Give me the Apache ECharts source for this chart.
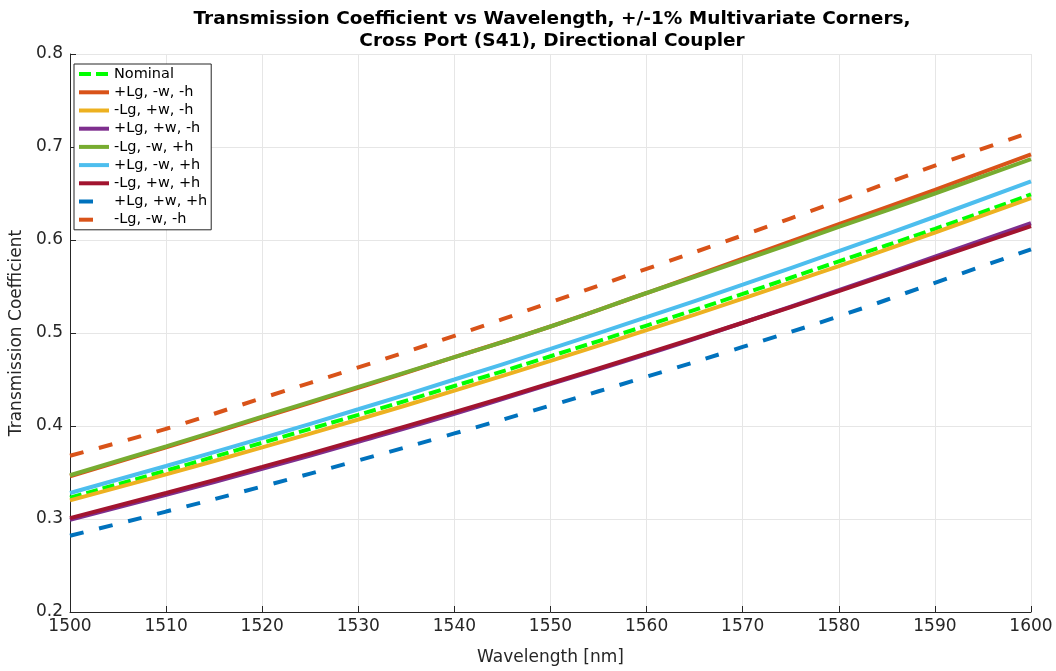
<!DOCTYPE html>
<html>
<head>
<meta charset="utf-8">
<script src="https://cdn.jsdelivr.net/npm/echarts@6/dist/echarts.min.js"></script>
<style>
  html, body { margin: 0; padding: 0; background: #fff; }
  #chart { width: 1056px; height: 671px; }
</style>
</head>
<body>
<div id="chart"></div>
<script>
// Wavelength samples [nm]
const wavelengths = [1500, 1510, 1520, 1530, 1540, 1550, 1560, 1570, 1580, 1590, 1600];

// Cross-port transmission (S41) for the nominal design and each +/-1% corner
const nominal      = [0.323, 0.352, 0.382, 0.412, 0.443, 0.475, 0.508, 0.542, 0.577, 0.612, 0.649];
const pLg_mw_mh    = [0.346, 0.377, 0.409, 0.441, 0.474, 0.507, 0.543, 0.580, 0.617, 0.654, 0.692];
const mLg_pw_mh    = [0.320, 0.348, 0.377, 0.407, 0.438, 0.470, 0.503, 0.537, 0.572, 0.608, 0.645];
const pLg_pw_mh    = [0.299, 0.326, 0.354, 0.383, 0.413, 0.445, 0.477, 0.511, 0.546, 0.582, 0.618];
const mLg_mw_ph    = [0.347, 0.378, 0.410, 0.442, 0.474, 0.507, 0.543, 0.578, 0.614, 0.650, 0.687];
const pLg_mw_ph    = [0.328, 0.357, 0.387, 0.418, 0.450, 0.483, 0.517, 0.552, 0.588, 0.625, 0.663];
const mLg_pw_ph    = [0.301, 0.328, 0.356, 0.385, 0.415, 0.446, 0.478, 0.511, 0.545, 0.580, 0.615];
const pLg_pw_ph    = [0.282, 0.308, 0.335, 0.363, 0.392, 0.422, 0.453, 0.485, 0.518, 0.554, 0.590];
const mLg_mw_mh    = [0.368, 0.397, 0.430, 0.463, 0.497, 0.533, 0.569, 0.605, 0.642, 0.680, 0.716];

const seriesNames = [
  'Nominal', '+Lg, -w, -h', '-Lg, +w, -h', '+Lg, +w, -h', '-Lg, -w, +h',
  '+Lg, -w, +h', '-Lg, +w, +h', '+Lg, +w, +h', '-Lg, -w, -h'
];
const seriesValues = [
  nominal, pLg_mw_mh, mLg_pw_mh, pLg_pw_mh, mLg_mw_ph,
  pLg_mw_ph, mLg_pw_ph, pLg_pw_ph, mLg_mw_mh
];
const seriesColors = [
  '#00ff00', '#D95319', '#EDB120', '#7E2F8E', '#77AC30',
  '#4DBEEE', '#A2142F', '#0072BD', '#D95319'
];
const seriesDash = [
  [12, 5], 'solid', 'solid', 'solid', 'solid',
  'solid', 'solid', [14, 16], [14, 16]
];

const xTicks = [1500, 1510, 1520, 1530, 1540, 1550, 1560, 1570, 1580, 1590, 1600];
const yTicks = [0.2, 0.3, 0.4, 0.5, 0.6, 0.7, 0.8];

const font = 'DejaVu Sans';
const axisColor = '#262626';

const series = seriesNames.map((name, i) => ({
  name: name,
  type: 'line',
  data: wavelengths.map((w, k) => [w, seriesValues[i][k]]),
  smooth: true,
  symbol: 'none',
  color: seriesColors[i],
  lineStyle: { color: seriesColors[i], width: 4, type: seriesDash[i], cap: 'butt' },
  itemStyle: { color: seriesColors[i] },
  z: 2 + i
}));

const chart = echarts.init(document.getElementById('chart'), null, { renderer: 'canvas' });
chart.setOption({
  animation: false,
  backgroundColor: '#ffffff',
  title: {
    text: 'Transmission Coefficient vs Wavelength, +/-1% Multivariate Corners,\nCross Port (S41), Directional Coupler',
    left: 547,
    top: 3,
    textAlign: 'center',
    textStyle: { fontFamily: font, fontWeight: 'bold', fontSize: 18.5, lineHeight: 22, color: '#000' }
  },
  grid: { left: 64, right: 25, top: 54, bottom: 52, containLabel: false },
  legend: {
    orient: 'vertical',
    left: 74,
    top: 64,
    padding: [1, 4, 1, 3],
    itemGap: 0,
    itemWidth: 30,
    itemHeight: 18,
    backgroundColor: '#ffffff',
    borderColor: axisColor,
    borderWidth: 1,
    borderRadius: 0,
    data: seriesNames,
    itemStyle: { opacity: 0 },
    lineStyle: { width: 4 },
    textStyle: { fontFamily: font, fontSize: 14.5, color: '#000', lineHeight: 18.2 }
  },
  xAxis: {
    type: 'value',
    min: xTicks[0],
    max: xTicks[xTicks.length - 1],
    interval: 10,
    name: 'Wavelength [nm]',
    nameLocation: 'middle',
    nameGap: 37,
    nameTextStyle: { fontFamily: font, fontSize: 17, color: axisColor },
    axisLine: { show: true, onZero: false, lineStyle: { color: axisColor, width: 1 } },
    axisTick: { show: true, inside: true, length: 6, lineStyle: { color: axisColor } },
    axisLabel: { fontFamily: font, fontSize: 17, color: axisColor, margin: 6,
      formatter: v => String(v) },
    splitLine: { show: true, lineStyle: { color: '#e6e6e6', width: 1 } }
  },
  yAxis: {
    type: 'value',
    min: yTicks[0],
    max: yTicks[yTicks.length - 1],
    interval: 0.1,
    name: 'Transmission Coefficient',
    nameLocation: 'middle',
    nameGap: 45,
    nameTextStyle: { fontFamily: font, fontSize: 17, color: axisColor },
    axisLine: { show: true, onZero: false, lineStyle: { color: axisColor, width: 1 } },
    axisTick: { show: true, inside: true, length: 6, lineStyle: { color: axisColor } },
    axisLabel: { fontFamily: font, fontSize: 17, color: axisColor, margin: 7,
      formatter: v => v.toFixed(1) },
    splitLine: { show: true, lineStyle: { color: '#e6e6e6', width: 1 } }
  },
  series: series
});
</script>
</body>
</html>
